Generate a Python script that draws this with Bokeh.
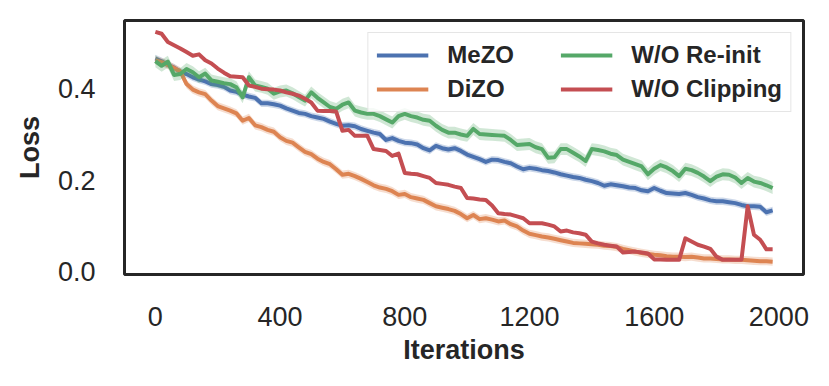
from bokeh.plotting import figure
from bokeh.models import FixedTicker, PrintfTickFormatter, Legend, LegendItem, Range1d
from bokeh.embed import file_html
from bokeh.resources import INLINE

iterations = list(range(0, 2000, 20))

mezo = [.466, .460, .452, .446, .437, .432, .425, .420, .416, .410,
        .408, .404, .396, .393, .387, .383, .380, .368, .368, .366,
        .363, .357, .352, .347, .345, .340, .337, .334, .328, .323,
        .319, .320, .318, .312, .308, .304, .301, .288, .292, .286,
        .282, .281, .278, .270, .265, .275, .270, .267, .270, .264,
        .256, .251, .246, .240, .245, .244, .240, .237, .230, .224,
        .227, .225, .222, .220, .217, .213, .210, .207, .205, .201,
        .198, .194, .188, .191, .189, .187, .184, .183, .178, .176,
        .183, .177, .172, .171, .170, .172, .168, .163, .160, .156,
        .154, .154, .152, .150, .146, .143, .143, .142, .130, .134]

dizo = [.462, .458, .452, .445, .438, .410, .398, .392, .388, .374,
        .362, .357, .352, .346, .330, .336, .320, .316, .310, .306,
        .294, .286, .282, .272, .262, .257, .247, .240, .235, .224,
        .212, .214, .209, .203, .196, .189, .184, .181, .176, .168,
        .170, .163, .160, .157, .150, .143, .140, .137, .133, .126,
        .117, .124, .115, .117, .114, .110, .112, .104, .099, .090,
        .083, .080, .077, .075, .072, .069, .066, .063, .062, .061,
        .060, .059, .057, .056, .054, .050, .047, .044, .041, .039,
        .037, .036, .034, .033, .033, .032, .033, .031, .029, .029,
        .028, .027, .027, .026, .026, .025, .024, .023, .023, .022]

wo_reinit = [.460, .450, .459, .430, .432, .443, .436, .425, .433, .418,
             .415, .412, .410, .403, .381, .425, .407, .404, .400, .389,
             .394, .396, .390, .382, .374, .392, .380, .370, .360, .356,
             .365, .370, .352, .348, .345, .345, .340, .333, .326, .340,
             .345, .340, .337, .332, .330, .319, .310, .304, .304, .300,
             .297, .312, .301, .300, .299, .298, .297, .288, .277, .278,
             .279, .272, .268, .249, .250, .268, .268, .260, .252, .242,
             .268, .266, .263, .258, .255, .245, .240, .235, .230, .213,
             .225, .233, .228, .220, .209, .225, .222, .216, .208, .198,
             .208, .213, .212, .206, .194, .205, .197, .194, .189, .183]

wo_clipping = [.524, .520, .502, .495, .488, .480, .472, .475, .462, .455,
               .444, .435, .427, .426, .425, .407, .404, .400, .399, .398,
               .396, .392, .389, .385, .378, .370, .352, .351, .351, .350,
               .308, .310, .297, .297, .297, .268, .266, .264, .253, .258,
               .216, .214, .213, .209, .205, .194, .192, .190, .186, .183,
               .161, .160, .158, .157, .145, .128, .126, .125, .121, .117,
               .106, .106, .106, .103, .099, .088, .090, .086, .084, .081,
               .066, .062, .059, .057, .055, .042, .043, .044, .042, .040,
               .027, .027, .026, .026, .026, .073, .066, .059, .055, .050,
               .033, .026, .026, .026, .026, .143, .081, .070, .049, .049]

series_names = ["MeZO", "DiZO", "W/O Re-init", "W/O Clipping"]
series_values = [mezo, dizo, wo_reinit, wo_clipping]
series_spread = [0.008, 0.009, 0.013, 0.0]
colors = ["#4C72B0", "#DD8452", "#55A868", "#C44E52"]

x_ticks = [0, 400, 800, 1200, 1600, 2000]
y_ticks = [0.0, 0.2, 0.4]

TXT = "#262626"
FONT = "Liberation Sans"

p = figure(width=821, height=378, output_backend="svg", toolbar_location=None,
           x_range=Range1d(-99, 2079), y_range=Range1d(-0.006, 0.549),
           min_border_left=124, min_border_right=18, min_border_top=20,
           min_border_bottom=104)
p.background_fill_color = "white"
p.border_fill_color = "white"
p.outline_line_color = TXT
p.outline_line_width = 3
p.xgrid.visible = False
p.ygrid.visible = False

items = []
for name, vals, spread, col in zip(series_names, series_values, series_spread, colors):
    if spread > 0:
        lo = [v - spread for v in vals]
        hi = [v + spread for v in vals]
        p.varea(x=iterations, y1=lo, y2=hi, fill_color=col, fill_alpha=0.28)
    r = p.line(iterations, vals, line_color=col, line_width=4, line_join="round")
    items.append(LegendItem(label=name, renderers=[r]))

for ax in (p.xaxis[0], p.yaxis[0]):
    ax.axis_line_color = None
    ax.major_tick_line_color = None
    ax.minor_tick_line_color = None
    ax.major_tick_out = 0
    ax.major_tick_in = 0
    ax.major_label_text_font = FONT
    ax.major_label_text_font_size = "27px"
    ax.major_label_text_color = TXT
    ax.axis_label_text_font = FONT
    ax.axis_label_text_font_size = "27px"
    ax.axis_label_text_font_style = "bold"
    ax.axis_label_text_color = TXT

p.xaxis.ticker = FixedTicker(ticks=x_ticks)
p.yaxis.ticker = FixedTicker(ticks=y_ticks)
p.yaxis.formatter = PrintfTickFormatter(format="%.1f")
p.xaxis.axis_label = "Iterations"
p.yaxis.axis_label = "Loss"
p.xaxis.major_label_standoff = 32
p.xaxis.axis_label_standoff = 6
p.yaxis.major_label_standoff = 29
p.yaxis.axis_label_standoff = 10

legend = Legend(items=items, location="top_right", ncols=2)
legend.margin = 12
legend.padding = 8
legend.spacing = 6
legend.glyph_width = 52
legend.glyph_height = 26
legend.label_standoff = 19
legend.label_width = 107
legend.label_text_font = FONT
legend.label_text_font_size = "24px"
legend.label_text_font_style = "bold"
legend.label_text_color = TXT
legend.border_line_color = "#cccccc"
legend.border_line_width = 1.5
legend.background_fill_color = "white"
legend.background_fill_alpha = 0.8
p.add_layout(legend, "center")

open("out.html", "w").write(file_html(p, INLINE))
